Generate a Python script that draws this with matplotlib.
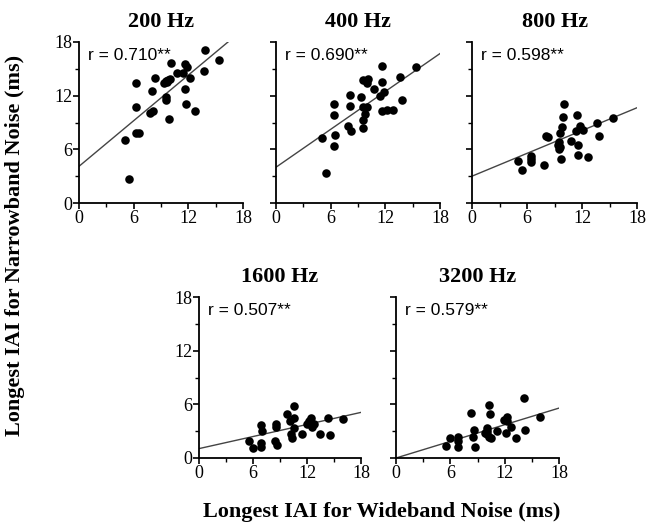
import matplotlib
matplotlib.use("Agg")
import matplotlib.pyplot as plt
import numpy as np

titles = ["200 Hz", "400 Hz", "800 Hz", "1600 Hz", "3200 Hz"]
r_labels = ["r = 0.710**", "r = 0.690**", "r = 0.598**", "r = 0.507**", "r = 0.579**"]

x200 = [5.05, 5.5, 6.3, 6.3, 6.3, 6.6, 7.8, 8.1, 8.0, 8.3, 9.3, 9.6, 9.8, 9.7, 10.0,
        9.6, 9.6, 9.9, 10.1, 10.8, 11.4, 11.6, 11.8, 11.6, 11.7, 12.2, 12.7, 13.7, 13.8, 15.4]
y200 = [7.0, 2.7, 13.4, 10.7, 7.8, 7.8, 10.1, 10.3, 12.5, 14.0, 13.4, 13.6, 13.8, 13.5, 13.9,
        11.8, 11.5, 9.4, 15.6, 14.5, 14.5, 15.5, 15.2, 12.7, 11.1, 14.0, 10.3, 14.8, 17.1, 16.0]

x400 = [5.04, 5.5, 6.35, 6.35, 6.5, 6.35, 7.9, 8.25, 8.1, 8.1, 9.3, 9.6, 10.0, 9.8, 9.5,
        9.6, 9.6, 10.1, 10.0, 10.8, 11.4, 11.9, 11.6, 11.6, 11.6, 12.2, 12.8, 13.6, 13.8, 15.4]
y400 = [7.3, 3.4, 11.1, 9.8, 7.6, 6.4, 8.6, 8.0, 10.9, 12.1, 11.9, 10.7, 10.7, 9.9, 9.3,
        8.4, 13.8, 13.9, 13.4, 12.7, 12.0, 12.4, 15.3, 13.5, 10.3, 10.4, 10.4, 14.1, 11.5, 15.2]

x800 = [5.07, 5.5, 6.4, 6.4, 6.45, 7.8, 8.1, 8.3, 9.35, 9.5, 9.5, 9.6, 9.6, 9.7, 9.8,
        9.9, 10.0, 10.8, 11.3, 11.5, 11.8, 12.1, 11.6, 11.6, 12.7, 13.6, 13.8, 15.4]
y800 = [4.66, 3.7, 5.3, 4.9, 4.6, 4.3, 7.5, 7.4, 6.5, 6.8, 6.0, 6.3, 7.8, 4.9, 8.5,
        9.6, 11.1, 6.9, 8.1, 9.8, 8.6, 8.2, 6.5, 5.4, 5.1, 9.0, 7.5, 9.5]

x1600 = [5.5, 5.96, 6.85, 6.96, 6.85, 6.85, 8.4, 8.7, 8.55, 8.6, 9.8, 10.1, 10.2, 10.3,
         10.5, 10.6, 10.6, 11.4, 12.0, 12.2, 12.4, 12.6, 12.8, 13.4, 14.3, 14.5, 16.0]
y1600 = [1.9, 1.1, 3.7, 3.0, 1.7, 1.2, 1.9, 1.5, 3.5, 3.8, 4.9, 4.1, 2.7, 2.2,
         3.3, 4.5, 5.8, 2.7, 3.8, 4.1, 4.5, 3.5, 3.8, 2.7, 4.5, 2.6, 4.4]

x3200 = [5.5, 5.95, 6.8, 6.8, 6.8, 8.3, 8.5, 8.6, 8.7, 9.8, 10.0, 10.0, 10.1, 10.3,
         10.4, 10.5, 10.3, 11.2, 11.9, 12.1, 12.3, 12.3, 12.7, 13.2, 14.1, 14.2, 15.9]
y3200 = [1.3, 2.2, 2.3, 1.9, 1.2, 5.0, 2.4, 3.1, 1.2, 2.8, 3.4, 2.7, 3.0, 5.9,
         4.9, 2.2, 2.4, 3.0, 4.2, 2.8, 4.6, 4.1, 3.5, 2.2, 6.7, 3.1, 4.6]

intercepts = [4.1, 4.0, 3.0, 1.05, 0.0]
slopes = [0.85, 0.706, 0.425, 0.225, 0.31]

xs = [x200, x400, x800, x1600, x3200]
ys = [y200, y400, y800, y1600, y3200]

W, H = 652, 529
fig = plt.figure(figsize=(W / 100, H / 100), dpi=100)

# axes boxes in pixels: left, top, width, height
boxes = [(79, 42, 164, 161), (276, 42, 164, 161), (472, 42, 165, 161),
         (199, 297, 162, 161), (396, 297, 163, 161)]
show_ylabels = [True, False, False, True, False]

serif = ["Liberation Serif", "DejaVu Serif"]
sans = ["Liberation Sans", "DejaVu Sans"]

for i, (l, t, w, h) in enumerate(boxes):
    ax = fig.add_axes([l / W, (H - t - h) / H, w / W, h / H])
    ax.scatter(xs[i], ys[i], s=38, color="black", zorder=3, linewidths=0)
    lx = np.array([0, 18])
    ax.plot(lx, intercepts[i] + slopes[i] * lx, color="#444444", lw=1.0, zorder=2)
    ax.set_xlim(0, 18)
    ax.set_ylim(0, 18)
    ax.set_xticks([0, 6, 12, 18])
    ax.set_yticks([0, 6, 12, 18])
    ax.set_xticks([3, 9, 15], minor=True)
    ax.set_yticks([3, 9, 15], minor=True)
    ax.spines["top"].set_visible(False)
    ax.spines["right"].set_visible(False)
    for s in ("left", "bottom"):
        ax.spines[s].set_linewidth(1.3)
        ax.spines[s].set_clip_on(False)
    ax.tick_params(which="major", direction="out", length=4, width=1.2, pad=1)
    ax.tick_params(which="minor", direction="out", length=3, width=1.0)
    for lab in ax.get_xticklabels() + ax.get_yticklabels():
        lab.set_fontfamily(serif)
        lab.set_fontsize(13)
    if not show_ylabels[i]:
        ax.set_yticklabels([])
    ax.set_title(titles[i], fontsize=16, fontweight="bold", family=serif, pad=11)
    ax.text(0.055, 0.915, r_labels[i], transform=ax.transAxes, fontsize=12.5,
            family=sans, va="center", ha="left")

fig.text(15 / W, 1 - 245 / H, "Longest IAI for Narrowband Noise (ms)", rotation=90,
         ha="center", va="center", fontsize=16, fontweight="bold", family=serif)
fig.text(382 / W, 1 - 512 / H, "Longest IAI for Wideband Noise (ms)",
         ha="center", va="center", fontsize=16, fontweight="bold", family=serif)

fig.savefig("out.png", dpi=100)
